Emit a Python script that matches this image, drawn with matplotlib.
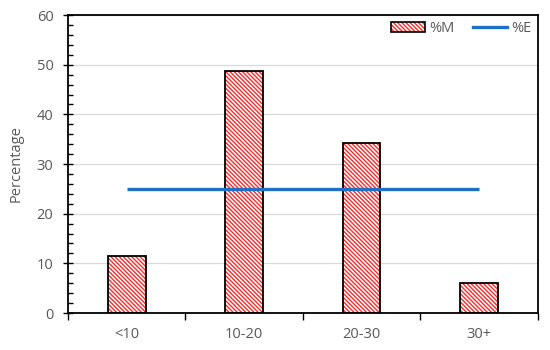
import matplotlib
matplotlib.use("Agg")
import matplotlib.pyplot as plt
from matplotlib.ticker import MultipleLocator, FixedLocator
from matplotlib.patches import Patch
from matplotlib.lines import Line2D
import numpy as np

categories = ["<10", "10-20", "20-30", "30+"]
pct_m = [11.5, 48.7, 34.3, 6.0]
pct_e = [25, 25, 25, 25]
yticks = [0, 10, 20, 30, 40, 50, 60]

plt.rcParams['font.family'] = ['Open Sans', 'DejaVu Sans']
plt.rcParams['hatch.linewidth'] = 1.0
grey = '#595959'
hatch_pat = '\\' * 8
red = '#ff2a2a'

fig = plt.figure(figsize=(5.5, 3.5), dpi=100)
ax = fig.add_axes([0.1236, 0.1057, 0.978 - 0.1236, 0.957 - 0.1057])

x = np.arange(len(categories))
w = 0.32
ax.bar(x, pct_m, width=w, color='white', edgecolor=red, hatch=hatch_pat, linewidth=0, zorder=2)
ax.bar(x, pct_m, width=w, fill=False, edgecolor='black', linewidth=1.3, zorder=3)
ax.plot(x, pct_e, color='#1f6fc5', linewidth=2.4, zorder=4, solid_capstyle='butt')

ax.set_xlim(-0.5, len(categories) - 0.5)
ax.set_ylim(0, 60)
ax.yaxis.set_major_locator(FixedLocator(yticks))
ax.yaxis.set_minor_locator(MultipleLocator(2))
ax.grid(axis='y', which='major', color='#d9d9d9', linewidth=0.9, zorder=0)
ax.set_axisbelow(True)

ax.xaxis.set_major_locator(FixedLocator(np.arange(-0.5, len(categories), 1.0)))
ax.xaxis.set_major_formatter(plt.NullFormatter())
ax.set_xticks(x, categories, minor=True)
ax.tick_params(axis='x', which='major', direction='out', length=5, width=1, color='black')
ax.tick_params(axis='x', which='minor', length=0, pad=10, labelsize=10.5, labelcolor=grey)
ax.tick_params(axis='y', which='major', direction='inout', length=7, width=1, labelsize=10.5, labelcolor=grey, pad=7)
ax.tick_params(axis='y', which='minor', direction='in', length=3.5, width=1)

for s in ax.spines.values():
    s.set_color('black')
    s.set_linewidth(1.3)

ax.set_ylabel('Percentage', color=grey, fontsize=10.5, labelpad=9)

m_handle = (Patch(facecolor='white', edgecolor=red, hatch=hatch_pat, linewidth=0),
            Patch(fill=False, edgecolor='black', linewidth=1.2))
handles = [m_handle, Line2D([0], [0], color='#1f6fc5', linewidth=2.4)]
leg = ax.legend(handles, ['%M', '%E'], loc='upper right', ncol=2, frameon=False,
                fontsize=10.5, labelcolor=grey, handlelength=2.3, handletextpad=0.3,
                columnspacing=1.3, borderaxespad=0.2, bbox_to_anchor=(1.005, 1.01))

fig.savefig('out.png', dpi=100)
